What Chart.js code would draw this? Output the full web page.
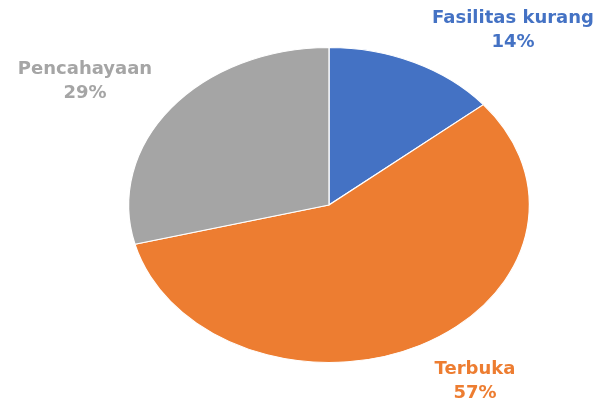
<!DOCTYPE html>
<html>
<head>
<meta charset="utf-8">
<script src="https://cdn.jsdelivr.net/npm/chart.js@4.4.0/dist/chart.umd.min.js"></script>
<style>
html, body { margin: 0; padding: 0; background: #fff; }
</style>
</head>
<body>
<canvas id="pieChart" width="598" height="405"></canvas>
<script>
// data
var labels = ["Fasilitas kurang", "Terbuka", "Pencahayaan"];
var values = [14, 57, 29];
var colors = ["#4472C4", "#ED7D31", "#A5A5A5"];

// text placement of each label (centre of the two-line block)
var labelPos = [[513, 30], [475, 381], [85, 81]];

// pie in the picture is wider than tall
var stretchX = 201 / 158;

var ellipse = {
  id: 'ellipse',
  beforeDatasetsDraw: function(chart) {
    var arc = chart.getDatasetMeta(0).data[0];
    var ctx = chart.ctx;
    ctx.save();
    ctx.translate(arc.x, arc.y);
    ctx.scale(stretchX, 1);
    ctx.translate(-arc.x, -arc.y);
  },
  afterDatasetsDraw: function(chart) {
    chart.ctx.restore();
  }
};

var pieLabels = {
  id: 'pieLabels',
  afterDraw: function(chart) {
    var ctx = chart.ctx;
    ctx.save();
    ctx.font = 'bold 18px "DejaVu Sans"';
    ctx.textAlign = 'center';
    ctx.textBaseline = 'middle';
    for (var i = 0; i < labels.length; i++) {
      ctx.fillStyle = colors[i];
      ctx.fillText(labels[i], labelPos[i][0], labelPos[i][1] - 12);
      ctx.fillText(values[i] + '%', labelPos[i][0], labelPos[i][1] + 12);
    }
    ctx.restore();
  }
};

var ctxP = document.getElementById("pieChart").getContext('2d');
var myPieChart = new Chart(ctxP, {
  type: 'pie',
  data: {
    labels: labels,
    datasets: [{
      data: values,
      backgroundColor: colors,
      borderColor: '#ffffff',
      borderWidth: 1
    }]
  },
  options: {
    responsive: false,
    animation: false,
    layout: { padding: { top: 47, bottom: 42, left: 60, right: 0 } },
    plugins: {
      legend: { display: false },
      tooltip: { enabled: false }
    }
  },
  plugins: [ellipse, pieLabels]
});
</script>
</body>
</html>
